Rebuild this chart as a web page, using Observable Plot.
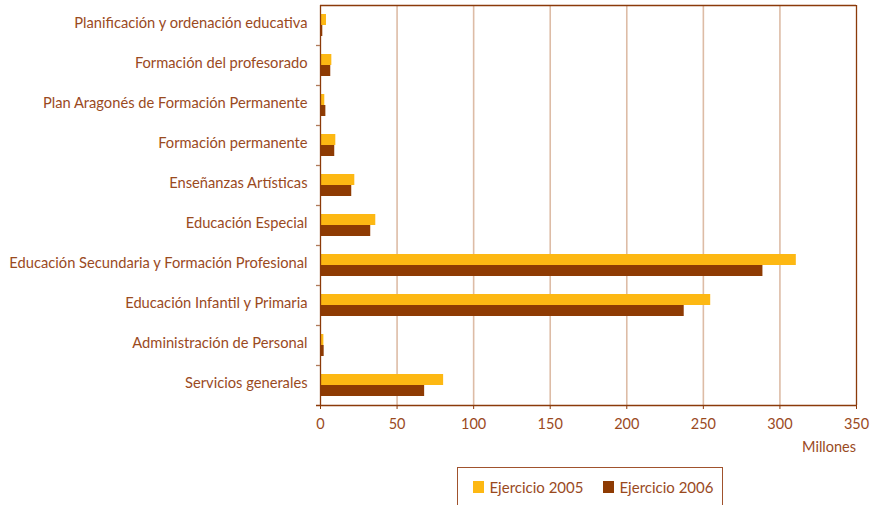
<!DOCTYPE html>
<html>
<head>
<meta charset="utf-8">
<script src="https://cdn.jsdelivr.net/npm/d3@7"></script>
<script src="https://cdn.jsdelivr.net/npm/@observablehq/plot@0.6"></script>
<style>
  html, body { margin: 0; padding: 0; background: #fff; }
  #wrap { position: relative; width: 871px; height: 505px; overflow: hidden; font-family: Lato, "Open Sans", sans-serif; color: #9A4A1E; }
  #unit { position: absolute; right: 15px; top: 438px; font-size: 14.5px; line-height: 18px; }
  #legend { position: absolute; left: 457px; top: 467px; width: 266px; height: 50px; border: 1.5px solid #A0522D; box-sizing: border-box; font-size: 15px; }
  .item { position: absolute; top: 10px; height: 18px; line-height: 18px; display: flex; align-items: center; }
  .sw { width: 11px; height: 12px; margin-right: 6px; }
</style>
</head>
<body>
<div id="wrap"></div>
<script>
const categories = [
  "Planificación y ordenación educativa",
  "Formación del profesorado",
  "Plan Aragonés de Formación Permanente",
  "Formación permanente",
  "Enseñanzas Artísticas",
  "Educación Especial",
  "Educación Secundaria y Formación Profesional",
  "Educación Infantil y Primaria",
  "Administración de Personal",
  "Servicios generales"
];
const series = ["Ejercicio 2005", "Ejercicio 2006"];
const values2005 = [3.9, 7.4, 2.8, 10.0, 22.4, 36.1, 310.7, 254.8, 2.2, 80.4];
const values2006 = [1.5, 6.7, 3.5, 9.3, 20.4, 32.8, 288.9, 237.5, 2.4, 68.0];
const xTicks = [0, 50, 100, 150, 200, 250, 300, 350];
const colors = ["#FDB813", "#8E3B03"];
const textColor = "#9A4A1E";
const axisColor = "#8B3A0A";

const d2005 = categories.map((c, i) => ({cat: c, value: values2005[i]}));
const d2006 = categories.map((c, i) => ({cat: c, value: values2006[i]}));

const chart = Plot.plot({
  width: 871,
  height: 460,
  marginLeft: 320,
  marginRight: 15,
  marginTop: 5,
  marginBottom: 55,
  style: {fontFamily: "Lato, 'Open Sans', sans-serif", fontSize: "14.7px", color: textColor, background: "transparent"},
  x: {domain: [0, 350], ticks: xTicks, tickSize: 4, tickPadding: 9, label: null},
  y: {domain: categories, padding: 0, tickSize: 0, tickPadding: 13, label: null},
  marks: [
    Plot.ruleX(xTicks.filter(t => t > 0 && t < 350), {stroke: "#DDBCA6", strokeWidth: 1.6}),
    Plot.barX(d2005, {y: "cat", x: "value", fill: colors[0], insetTop: 9, insetBottom: 20}),
    Plot.barX(d2006, {y: "cat", x: "value", fill: colors[1], insetTop: 20, insetBottom: 9}),
    Plot.ruleX([0], {stroke: axisColor, strokeWidth: 1.3}),
    Plot.ruleX([350], {stroke: axisColor, strokeWidth: 1.3}),
    Plot.ruleY([categories[0]], {y: d => d, x1: 0, x2: 350, dy: -20, stroke: axisColor, strokeWidth: 1.3}),
    Plot.ruleY([categories[categories.length - 1]], {y: d => d, x1: 0, x2: 350, dy: 20, stroke: axisColor, strokeWidth: 1.3, insetLeft: -4}),
    Plot.ruleY(categories.slice(1), {y: d => d, x1: 0, x2: 0, dy: -20, stroke: "#B07A5A", strokeWidth: 1.3, insetLeft: -4})
  ]
});
chart.querySelectorAll("[aria-label='x-axis tick'], [aria-label='y-axis tick']").forEach(g => g.setAttribute("stroke", axisColor));
chart.querySelectorAll("[aria-label$='tick label']").forEach(g => g.setAttribute("fill", textColor));
chart.querySelectorAll("[aria-label='y-axis tick label'] text").forEach(t => t.setAttribute("dy", "-0.15em"));
chart.querySelectorAll("[aria-label='x-axis tick label']").forEach(g => g.setAttribute("font-size", "14.5px"));

const wrap = document.getElementById("wrap");
wrap.appendChild(chart);

const unit = document.createElement("div");
unit.id = "unit";
unit.textContent = "Millones";
wrap.appendChild(unit);

const legend = document.createElement("div");
legend.id = "legend";
const lefts = [14.5, 144.5];
series.forEach((s, i) => {
  const item = document.createElement("div");
  item.className = "item";
  item.style.left = lefts[i] + "px";
  const sw = document.createElement("span");
  sw.className = "sw";
  sw.style.background = colors[i];
  const t = document.createElement("span");
  t.textContent = s;
  item.appendChild(sw);
  item.appendChild(t);
  legend.appendChild(item);
});
wrap.appendChild(legend);
</script>
</body>
</html>
